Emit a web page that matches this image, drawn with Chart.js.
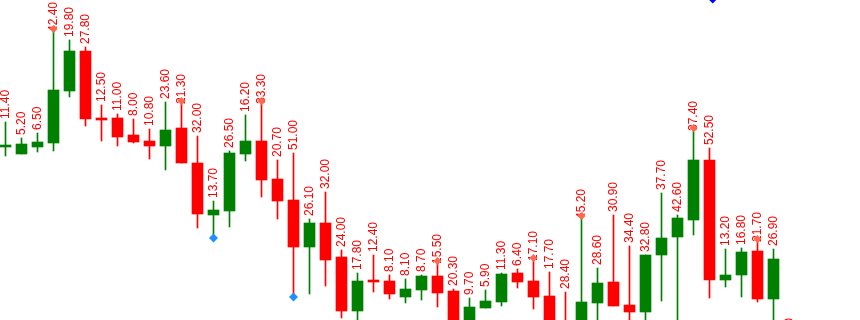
<!DOCTYPE html>
<html>
<head>
<meta charset="utf-8">
<script src="https://cdn.jsdelivr.net/npm/chart.js@4.4.1/dist/chart.umd.min.js"></script>
<style>
  html, body { margin: 0; padding: 0; background: #fff; }
  #wrap { width: 860px; height: 320px; position: relative; }
</style>
</head>
<body>
<div id="wrap"><canvas id="candles"></canvas></div>
<script>
// candle values (price scale is hidden)
const opens  = [25.3, 24.6, 25.3, 25.7, 30.9, 34.9, 28.2, 28.2, 26.5, 25.9,
                25.4, 27.2, 23.7, 18.5, 18.9, 24.6, 25.9, 22.1, 20.0, 15.3,
                17.7, 14.3, 8.9, 12.0, 11.9, 10.3, 11.0, 12.4, 10.9, 6.5,
                9.2, 9.8, 12.7, 11.9, 10.4, 7.5, 6.5, 9.7, 11.8, 9.5,
                8.8, 14.5, 16.3, 18.0, 24.0, 12.0, 12.5, 14.9, 10.1, 4.5]
const closes = [25.5, 25.6, 25.8, 31.0, 34.9, 28.1, 28.0, 26.3, 25.8, 25.4,
                27.0, 23.7, 18.6, 19.0, 24.7, 25.9, 22.0, 19.9, 15.3, 17.7,
                14.0, 8.9, 11.9, 11.8, 10.6, 11.1, 12.4, 10.7, 6.5, 9.3,
                9.9, 12.6, 11.8, 10.3, 7.0, 5.5, 9.8, 11.7, 9.4, 8.8,
                14.5, 16.2, 18.2, 24.0, 12.0, 12.5, 14.8, 10.1, 14.1, 4.0]
const highs  = [27.8, 26.2, 26.7, 37.1, 36.0, 35.3, 29.5, 28.6, 28.1, 27.1,
                29.8, 29.9, 26.4, 19.9, 24.9, 28.5, 29.9, 24.0, 24.7, 18.1,
                20.8, 15.0, 12.7, 14.5, 12.5, 12.1, 12.5, 13.9, 11.1, 10.2,
                11.0, 12.7, 13.1, 14.2, 12.8, 10.8, 18.4, 13.2, 18.5, 15.4,
                14.5, 20.7, 18.5, 27.2, 25.2, 15.1, 15.2, 16.1, 15.1, 4.9]
const lows   = [24.4, 24.6, 24.8, 24.9, 30.3, 27.4, 25.9, 25.4, 25.7, 24.1,
                23.0, 23.7, 17.2, 16.2, 17.3, 23.9, 20.3, 18.1, 10.3, 10.6,
                11.4, 8.2, 7.5, 10.8, 10.1, 9.7, 10.0, 9.3, 5.5, 6.0,
                9.2, 9.4, 11.2, 9.1, 6.0, 5.0, 6.0, 7.0, 9.4, 7.0,
                7.0, 9.9, 6.5, 16.5, 10.2, 11.3, 10.3, 9.8, 7.0, 3.5]
const valueLabels = [11.4, 5.2, 6.5, 42.4, 19.8, 27.8, 12.5, 11.0, 8.0, 10.8,
                23.6, 21.3, 32.0, 13.7, 26.5, 16.2, 33.3, 20.7, 51.0, 26.1,
                32.0, 24.0, 17.8, 12.4, 8.1, 8.1, 8.7, 15.5, 20.3, 9.7,
                5.9, 11.3, 6.4, 17.1, 17.7, 28.4, 45.2, 28.6, 30.9, 34.4,
                32.8, 37.7, 42.6, 37.4, 52.5, 13.2, 16.8, 21.7, 26.9, 18.5]
const highMarks = [3, 11, 16, 27, 33, 36, 43, 47]
const lowMarks = [13, 18]
const topMarks = [{ x: 44.2, y: 40.1 }]

const upColor = '#008000'
const downColor = '#ff0000'

let bodies = []
let wicks = []
let colors = []
opens.forEach(function (o, i) {
    bodies.push({ x: i, y: [o, closes[i]] })
    wicks.push({ x: i, y: [lows[i], highs[i]] })
    colors.push(closes[i] >= o ? upColor : downColor)
})
let highPts = highMarks.map(i => ({ x: i, y: highs[i] }))
let lowPts = lowMarks.map(i => ({ x: i, y: lows[i] }))

// rotated value text above every candle (drawn under the diamonds)
const labelPlugin = {
    id: 'candleLabels',
    beforeDatasetsDraw(chart) {
        const c = chart.ctx
        const xs = chart.scales.x
        const ys = chart.scales.y
        c.save()
        c.font = '12px "Liberation Sans", Arial, sans-serif'
        c.fillStyle = '#ff0000'
        c.textAlign = 'left'
        c.textBaseline = 'middle'
        valueLabels.forEach(function (v, i) {
            let px = xs.getPixelForValue(i) + 0.5
            let py = ys.getPixelForValue(highs[i])
            py += highMarks.includes(i) ? 3 : -3
            c.save()
            c.translate(px, py)
            c.rotate(-Math.PI / 2)
            c.fillText(v.toFixed(2), 0, 0)
            c.restore()
        })
        c.restore()
    }
}

let ctx = document.getElementById('candles')
let myChart = new Chart(ctx, {
    type: 'bar',
    data: {
        datasets: [
            {
                type: 'scatter',
                data: highPts,
                pointStyle: 'rectRot',
                pointRadius: 4,
                backgroundColor: '#ff6a4d',
                borderWidth: 0,
                order: 0
            },
            {
                type: 'scatter',
                data: lowPts,
                pointStyle: 'rectRot',
                pointRadius: 4.5,
                backgroundColor: '#1e90ff',
                borderWidth: 0,
                order: 0
            },
            {
                type: 'scatter',
                data: topMarks,
                pointStyle: 'rectRot',
                pointRadius: 4.5,
                backgroundColor: '#0000ff',
                borderWidth: 0,
                order: 0
            },
            {
                data: bodies,
                backgroundColor: colors,
                barThickness: 11,
                grouped: false,
                borderWidth: 0,
                order: 1
            },
            {
                data: wicks,
                backgroundColor: colors,
                barThickness: 1,
                grouped: false,
                borderWidth: 0,
                order: 2
            }
        ]
    },
    options: {
        responsive: true,
        maintainAspectRatio: false,
        animation: false,
        devicePixelRatio: 1,
        layout: { padding: 0, autoPadding: false },
        plugins: {
            legend: { display: false },
            tooltip: { enabled: false }
        },
        scales: {
            x: {
                type: 'linear',
                display: false,
                offset: false,
                min: -0.34375,
                max: 53.40625
            },
            y: {
                display: false,
                min: 8,
                max: 40
            }
        }
    },
    plugins: [labelPlugin]
})
</script>
</body>
</html>
